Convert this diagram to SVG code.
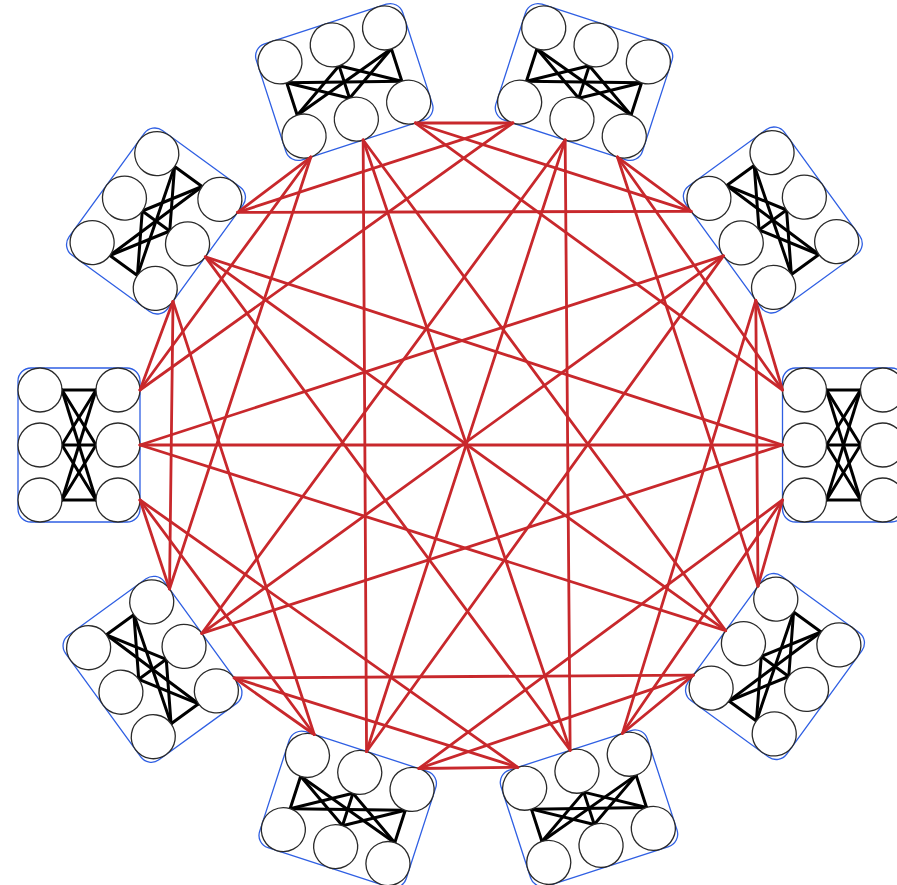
<svg xmlns="http://www.w3.org/2000/svg" width="897" height="885" viewBox="0 0 897 885">
<style>
.box{fill:#fff;stroke:#2f5fe3;stroke-width:1.3}
.rt{fill:#fff;stroke:#2a2a2a;stroke-width:1.3}
.loc{stroke:#000;stroke-width:3;stroke-linecap:round}
.glob line{stroke:#c8282c;stroke-width:2.8;stroke-linecap:round}
</style>
<defs>
<g id="grp">
<rect class="box" x="-61" y="-77" width="122" height="154" rx="13"/>
<g class="loc">
<line x1="17" y1="-55" x2="-17" y2="-55"/><line x1="17" y1="-55" x2="-17" y2="0"/><line x1="17" y1="-55" x2="-17" y2="55"/>
<line x1="17" y1="0" x2="-17" y2="-55"/><line x1="17" y1="0" x2="-17" y2="0"/><line x1="17" y1="0" x2="-17" y2="55"/>
<line x1="17" y1="55" x2="-17" y2="-55"/><line x1="17" y1="55" x2="-17" y2="0"/><line x1="17" y1="55" x2="-17" y2="55"/>
</g>
<circle class="rt" cx="39" cy="-55" r="22"/><circle class="rt" cx="39" cy="0" r="22"/><circle class="rt" cx="39" cy="55" r="22"/>
<circle class="rt" cx="-39" cy="-55" r="22"/><circle class="rt" cx="-39" cy="0" r="22"/><circle class="rt" cx="-39" cy="55" r="22"/>
</g>
</defs>
<g id="g0" transform="translate(843.5,445) rotate(0)"><use href="#grp"/></g>
<g id="g1" transform="translate(772.8,220) rotate(-36)"><use href="#grp"/></g>
<g id="g2" transform="translate(584,82) rotate(-72)"><use href="#grp"/></g>
<g id="g3" transform="translate(344.3,82) rotate(-108)"><use href="#grp"/></g>
<g id="g4" transform="translate(156,221) rotate(-144)"><use href="#grp"/></g>
<g id="g5" transform="translate(79,445) rotate(-180)"><use href="#grp"/></g>
<g id="g6" transform="translate(152.5,669.3) rotate(-216)"><use href="#grp"/></g>
<g id="g7" transform="translate(347.7,809.5) rotate(-252)"><use href="#grp"/></g>
<g id="g8" transform="translate(589,808.3) rotate(-288)"><use href="#grp"/></g>
<g id="g9" transform="translate(775,666.5) rotate(-324)"><use href="#grp"/></g>
<g id="connectors" class="glob">
<line x1="782.5" y1="390" x2="755.78" y2="300.36"/>
<line x1="691.12" y1="211.36" x2="617.46" y2="157.01"/>
<line x1="512.84" y1="123.01" x2="415.46" y2="123.01"/>
<line x1="310.84" y1="157.01" x2="237.68" y2="212.36"/>
<line x1="173.02" y1="301.36" x2="140" y2="390"/>
<line x1="140" y1="500" x2="169.52" y2="588.95"/>
<line x1="234.18" y1="677.95" x2="314.24" y2="734.49"/>
<line x1="418.86" y1="768.49" x2="517.84" y2="767.29"/>
<line x1="622.46" y1="733.29" x2="693.32" y2="675.15"/>
<line x1="757.98" y1="586.15" x2="782.5" y2="500"/>
<line x1="782.5" y1="390" x2="617.46" y2="157.01"/>
<line x1="691.12" y1="211.36" x2="415.46" y2="123.01"/>
<line x1="512.84" y1="123.01" x2="237.68" y2="212.36"/>
<line x1="310.84" y1="157.01" x2="140" y2="390"/>
<line x1="173.02" y1="301.36" x2="169.52" y2="588.95"/>
<line x1="140" y1="500" x2="314.24" y2="734.49"/>
<line x1="234.18" y1="677.95" x2="517.84" y2="767.29"/>
<line x1="418.86" y1="768.49" x2="693.32" y2="675.15"/>
<line x1="622.46" y1="733.29" x2="782.5" y2="500"/>
<line x1="757.98" y1="586.15" x2="755.78" y2="300.36"/>
<line x1="782.5" y1="390" x2="415.46" y2="123.01"/>
<line x1="691.12" y1="211.36" x2="237.68" y2="212.36"/>
<line x1="512.84" y1="123.01" x2="140" y2="390"/>
<line x1="310.84" y1="157.01" x2="169.52" y2="588.95"/>
<line x1="173.02" y1="301.36" x2="314.24" y2="734.49"/>
<line x1="140" y1="500" x2="517.84" y2="767.29"/>
<line x1="234.18" y1="677.95" x2="693.32" y2="675.15"/>
<line x1="418.86" y1="768.49" x2="782.5" y2="500"/>
<line x1="622.46" y1="733.29" x2="755.78" y2="300.36"/>
<line x1="757.98" y1="586.15" x2="617.46" y2="157.01"/>
<line x1="782.5" y1="445" x2="205.35" y2="256.86"/>
<line x1="723.45" y1="255.86" x2="140" y2="445"/>
<line x1="565.15" y1="140.01" x2="201.85" y2="633.45"/>
<line x1="363.15" y1="140.01" x2="366.55" y2="751.49"/>
<line x1="205.35" y1="256.86" x2="570.15" y2="750.29"/>
<line x1="140" y1="445" x2="725.65" y2="630.65"/>
<line x1="201.85" y1="633.45" x2="782.5" y2="445"/>
<line x1="366.55" y1="751.49" x2="723.45" y2="255.86"/>
<line x1="570.15" y1="750.29" x2="565.15" y2="140.01"/>
<line x1="725.65" y1="630.65" x2="363.15" y2="140.01"/>
<line x1="782.5" y1="445" x2="140" y2="445"/>
<line x1="723.45" y1="255.86" x2="201.85" y2="633.45"/>
<line x1="565.15" y1="140.01" x2="366.55" y2="751.49"/>
<line x1="363.15" y1="140.01" x2="570.15" y2="750.29"/>
<line x1="205.35" y1="256.86" x2="725.65" y2="630.65"/>
</g>
</svg>
